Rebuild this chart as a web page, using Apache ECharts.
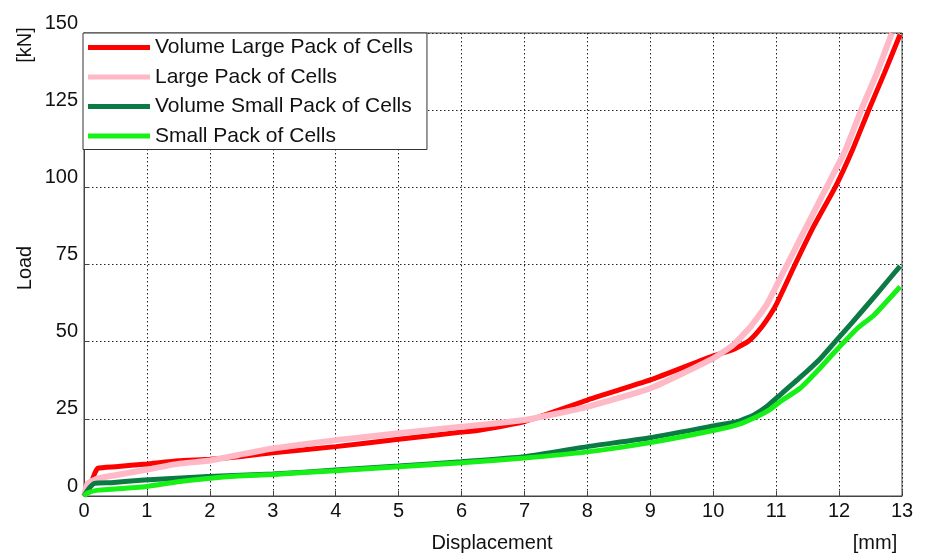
<!DOCTYPE html>
<html>
<head>
<meta charset="utf-8">
<script src="https://cdn.jsdelivr.net/npm/echarts@6/dist/echarts.min.js"></script>
<style>
  html, body { margin: 0; padding: 0; background: #fff; }
  #chart { width: 930px; height: 557px; }
</style>
</head>
<body>
<div id="chart"></div>
<script>
// Load–displacement curves of the compressed cell packs
const seriesNames = [
  'Volume Large Pack of Cells',
  'Large Pack of Cells',
  'Volume Small Pack of Cells',
  'Small Pack of Cells'
];

// displacement [mm] / load [kN]
const volLargeDisp = [0, 0.05, 0.12, 0.17, 0.22, 0.5, 1.0, 1.5, 2.0, 2.5, 3.0, 4.0, 5.0, 6.0, 6.3, 7.0, 8.0, 9.0, 10.0, 10.3, 10.55, 10.7, 10.85, 11.0, 11.3, 11.6, 11.95, 12.2, 12.47, 12.72, 12.97];
const volLargeLoad = [0, 2, 4.5, 7.3, 9, 9.5, 10.4, 11.4, 11.9, 12.8, 14, 16, 18.4, 20.7, 21.4, 24.1, 31.1, 37.6, 45.4, 47.3, 50, 53, 57, 62, 75, 87.5, 100.5, 111.5, 125, 137, 149.5];

const largeDisp = [0, 0.06, 0.22, 0.43, 0.96, 1.49, 1.97, 2.45, 3.0, 4.0, 5.0, 6.0, 7.0, 8.0, 9.0, 10.0, 10.32, 10.6, 10.85, 11.1, 11.4, 11.8, 12.1, 12.36, 12.6, 12.84];
const largeLoad = [0, 4.1, 5.7, 6.5, 8.4, 10.4, 11.4, 13.3, 15.4, 18.1, 20.3, 22.4, 24.6, 28.9, 34.9, 44.6, 49, 55, 62, 72, 84, 100, 112, 125.5, 137, 150];

const volSmallDisp = [0, 0.08, 0.17, 0.43, 0.96, 1.97, 3.0, 4.0, 5.0, 6.0, 7.0, 8.0, 9.0, 10.0, 10.4, 10.64, 10.85, 11.06, 11.38, 11.7, 11.96, 12.2, 12.6, 12.97];
const volSmallLoad = [0, 2.5, 4.1, 4.3, 5.2, 6.3, 7.1, 8.4, 9.7, 11.1, 12.7, 16, 18.9, 22.7, 24.2, 26.2, 29, 32.7, 38.4, 44.5, 50.5, 56, 65.5, 74.5];

const smallDisp = [0, 0.06, 0.22, 0.43, 0.96, 1.49, 1.97, 2.45, 3.0, 4.0, 5.0, 6.0, 7.0, 8.0, 9.0, 10.0, 10.4, 10.69, 10.9, 11.06, 11.38, 11.7, 11.96, 12.3, 12.55, 12.97];
const smallLoad = [0, 1, 1.9, 2.2, 3.0, 4.6, 5.7, 6.5, 7.0, 8.2, 9.5, 10.8, 12.3, 14.3, 17.3, 21.2, 23.2, 25.7, 28, 30.5, 34.9, 41.5, 47.3, 54.5, 58.5, 67.8];

const xTicks = [0, 1, 2, 3, 4, 5, 6, 7, 8, 9, 10, 11, 12, 13];
const yTicks = [0, 25, 50, 75, 100, 125, 150];

const colors = ['#ff0000', '#ffb8c6', '#0b7a45', '#16f016'];
const widths = [5, 6, 5, 5];

const zip = (xs, ys) => xs.map((x, i) => [x, ys[i]]);
const curves = [
  zip(volLargeDisp, volLargeLoad),
  zip(largeDisp, largeLoad),
  zip(volSmallDisp, volSmallLoad),
  zip(smallDisp, smallLoad)
];

const FONT = 'Liberation Sans, Arial, Helvetica, sans-serif';

const chart = echarts.init(document.getElementById('chart'), null, { renderer: 'canvas' });

chart.setOption({
  backgroundColor: '#ffffff',
  animation: false,
  grid: {
    left: 84, right: 28, top: 33, bottom: 61,
    show: true, borderColor: '#444', borderWidth: 1, backgroundColor: '#fff'
  },
  xAxis: {
    type: 'value',
    min: xTicks[0], max: xTicks[xTicks.length - 1], interval: 1,
    axisLine: { show: true, onZero: false, lineStyle: { color: '#444', width: 1 } },
    axisTick: { show: true, inside: true, length: 5, lineStyle: { color: '#444' } },
    axisLabel: { color: '#111', fontFamily: FONT, fontSize: 20, margin: 5 },
    splitLine: { show: true, lineStyle: { color: '#222', width: 1, type: [1.5, 2.5] } }
  },
  yAxis: {
    type: 'value',
    min: yTicks[0], max: yTicks[yTicks.length - 1], interval: 25,
    axisLine: { show: true, onZero: false, lineStyle: { color: '#444', width: 1 } },
    axisTick: { show: true, inside: true, length: 5, lineStyle: { color: '#444' } },
    axisLabel: { color: '#111', fontFamily: FONT, fontSize: 20, margin: 6, verticalAlign: 'bottom' },
    splitLine: { show: true, lineStyle: { color: '#222', width: 1, type: [1.5, 2.5] } }
  },
  legend: {
    orient: 'vertical',
    left: 83, top: 33,
    padding: [2, 14, 1, 5],
    itemGap: 4.5,
    itemWidth: 62, itemHeight: 5,
    icon: 'rect',
    backgroundColor: '#fff',
    borderColor: '#333', borderWidth: 1,
    textStyle: { color: '#111', fontFamily: FONT, fontSize: 21, lineHeight: 25 },
    data: seriesNames
  },
  series: curves.map((data, i) => ({
    name: seriesNames[i],
    type: 'line',
    data: data,
    showSymbol: false,
    smooth: 0.15,
    color: colors[i],
    lineStyle: { color: colors[i], width: widths[i] },
    z: 2 + i
  })),
  graphic: [
    { type: 'text', x: 25, y: 268, rotation: Math.PI / 2,
      style: { text: 'Load', fontFamily: FONT, fontSize: 20, fill: '#111', align: 'center', verticalAlign: 'middle' } },
    { type: 'text', x: 25, y: 45, rotation: Math.PI / 2,
      style: { text: '[kN]', fontFamily: FONT, fontSize: 20, fill: '#111', align: 'center', verticalAlign: 'middle' } },
    { type: 'text', x: 492, y: 543,
      style: { text: 'Displacement', fontFamily: FONT, fontSize: 20, fill: '#111', align: 'center', verticalAlign: 'middle' } },
    { type: 'text', x: 875, y: 543,
      style: { text: '[mm]', fontFamily: FONT, fontSize: 20, fill: '#111', align: 'center', verticalAlign: 'middle' } }
  ]
});
</script>
</body>
</html>
